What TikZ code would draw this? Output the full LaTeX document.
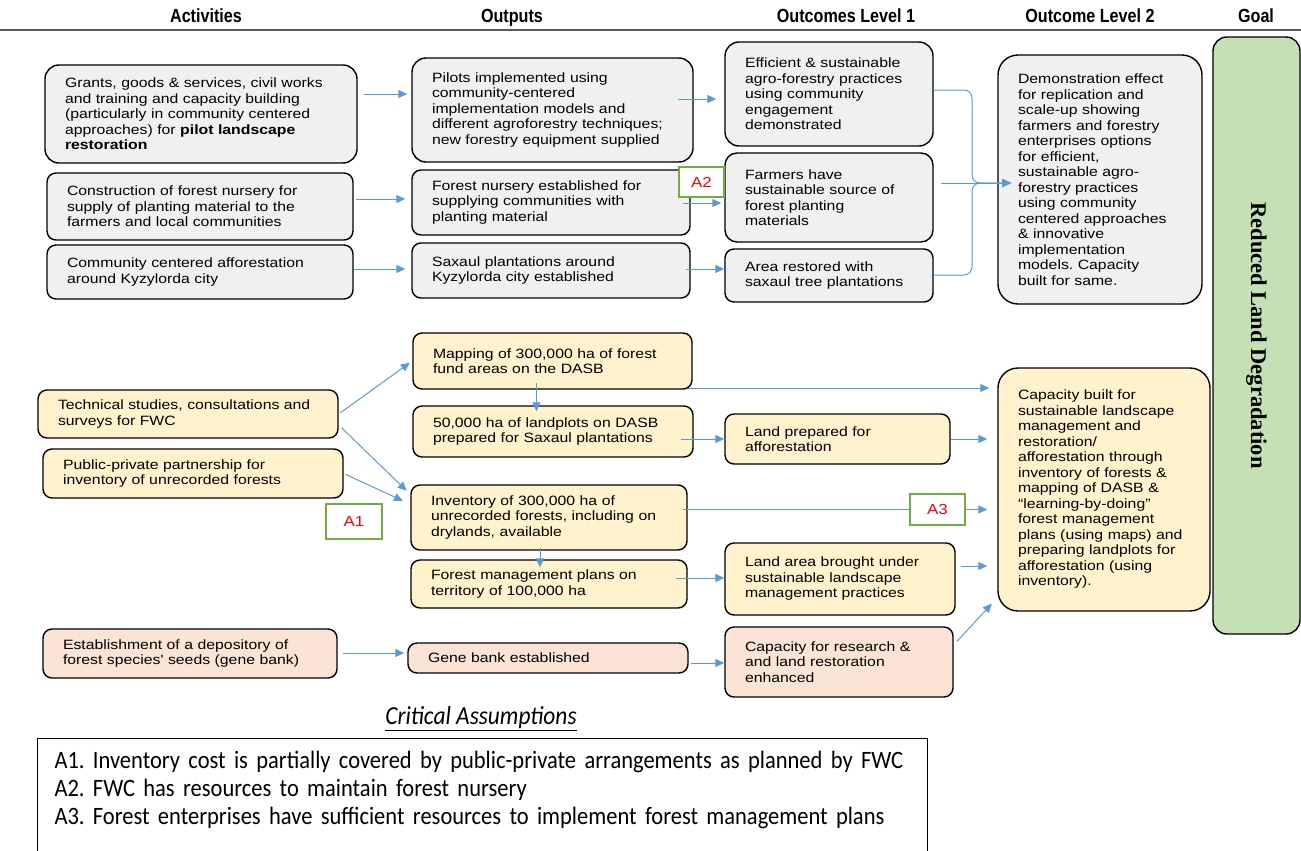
\documentclass[tikz,border=0pt]{standalone}
\usepackage{fontspec}
\setmainfont{Liberation Sans}
\newfontfamily\boxfont{Liberation Sans}[FakeStretch=1.17]
\newfontfamily\headfont{Liberation Sans}[FakeStretch=0.85]
\newfontfamily\goalfont{Liberation Serif}
\newfontfamily\notefont{Carlito}[FakeStretch=0.9]
\usetikzlibrary{arrows.meta,positioning}
\definecolor{boxgray}{HTML}{F0F0F0}
\definecolor{boxyellow}{HTML}{FFF2CC}
\definecolor{boxpink}{HTML}{FBE4D5}
\definecolor{goalgreen}{HTML}{C5E0B4}
\definecolor{arrowblue}{HTML}{5B9BD5}
\definecolor{markgreen}{HTML}{70AD47}
\frenchspacing
\begin{document}
\begin{tikzpicture}[x=1pt, y=-1pt, every node/.style={font=\boxfont\fontsize{13.5}{15.5}\selectfont},
      box/.style={draw, line width=1.4pt, rounded corners=9pt, align=left, inner xsep=20pt, inner ysep=2pt},
      gbox/.style={box, fill=boxgray}, ybox/.style={box, fill=boxyellow}, pbox/.style={box, fill=boxpink},
      head/.style={anchor=base, font=\headfont\bfseries\fontsize{19}{22}\selectfont},
      asum/.style={draw=markgreen, line width=1.3pt, fill=white, text=red, inner sep=0pt, font=\boxfont\fontsize{14.5}{16}\selectfont},
      arr/.style={draw=arrowblue, line width=1pt, -{Stealth[length=9pt, width=8pt, inset=0pt]}},
      link/.style={draw=arrowblue, line width=1pt}]
    \useasboundingbox (0,0) rectangle (1301,851);
    % column heads
    \node[head] (hact) at (206,23) {Activities};
    \node[head] (hout) at (512,23) {Outputs};
    \node[head] (hoc1) at (846,23) {Outcomes Level 1};
    \node[head] (hoc2) at (1090,23) {Outcome Level 2};
    \node[head] (hgoal) at (1256,23) {Goal};
    \draw[line width=1.5pt, gray!70!black] (0,30) -- (1301,30);
    % pilot landscape part
    \node[gbox, rounded corners=14pt, text width=272pt, minimum height=98pt] (act1) at (201,114) {Grants, goods \& services, civil works\\and training and capacity building\\(particularly in community centered\\approaches) for \textbf{pilot landscape}\\\textbf{restoration}};
    \node[gbox, text width=266pt, minimum height=67pt] (act2) at (200,206.5) {Construction of forest nursery for\\supply of planting material to the\\farmers and local communities};
    \node[gbox, text width=266pt, minimum height=54pt] (act3) at (200,272) {Community centered afforestation\\around Kyzylorda city};
    \node[gbox, rounded corners=14pt, text width=241pt, minimum height=104pt] (out1) at (552.5,110) {Pilots implemented using\\community-centered\\implementation models and\\different agroforestry techniques;\\new forestry equipment supplied};
    \node[gbox, text width=238pt, minimum height=65pt] (out2) at (551,202.5) {Forest nursery  established for\\supplying communities with\\planting material};
    \node[gbox, text width=238pt, minimum height=55pt] (out3) at (551,270.5) {Saxaul plantations around\\Kyzylorda city established};
    \node[gbox, rounded corners=14pt, text width=168pt, minimum height=104pt] (oc1) at (829,94) {Efficient \& sustainable\\agro-forestry practices\\using community\\engagement\\demonstrated};
    \node[gbox, rounded corners=12pt, text width=168pt, minimum height=89pt] (oc2) at (829,197.5) {Farmers  have\\sustainable source of\\forest planting\\materials};
    \node[gbox, text width=168pt, minimum height=53pt] (oc3) at (829,275.5) {Area restored with\\saxaul tree plantations};
    \node[gbox, rounded corners=20pt, text width=164pt, minimum height=249pt] (demo) at (1100,179.5) {Demonstration effect\\for replication and\\scale-up showing\\farmers and forestry\\enterprises options\\for efficient,\\sustainable agro-\\forestry practices\\using community\\centered approaches\\\& innovative\\implementation\\models. Capacity\\built for same.};
    \node[asum, minimum width=45pt, minimum height=30pt] (a2) at (701.5,182) {A2};
    % goal
    \node[box, fill=goalgreen, rounded corners=14pt, rotate=-90, inner sep=0pt, minimum width=597pt, minimum height=87pt, font=\goalfont\bfseries\fontsize{22.5}{26}\selectfont] (goal) at (1256.5,335.5) {Reduced Land Degradation};
    % forest management part
    \node[ybox, text width=260pt, minimum height=48pt] (tech) at (188,414) {Technical studies, consultations and\\surveys for FWC};
    \node[ybox, text width=260pt, minimum height=49pt] (ppp) at (193,473.5) {Public-private partnership for\\inventory of unrecorded forests};
    \node[asum, minimum width=56pt, minimum height=35pt] (a1) at (354,521.5) {A1};
    \node[ybox, text width=239pt, minimum height=56pt] (map) at (552.5,361) {Mapping of 300,000 ha of forest\\fund areas on the DASB};
    \node[ybox, text width=240pt, minimum height=51pt] (plots) at (553,431.5) {50,000 ha of landplots on DASB\\prepared for Saxaul plantations};
    \node[ybox, text width=236pt, minimum height=65pt] (inv) at (549,517.5) {Inventory of 300,000 ha of\\unrecorded forests, including on\\drylands, available};
    \node[ybox, text width=236pt, minimum height=48pt] (plans) at (549,584) {Forest management plans on\\territory of 100,000 ha};
    \node[ybox, text width=185pt, minimum height=50pt] (prep) at (837.5,439) {Land prepared for\\afforestation};
    \node[asum, minimum width=55pt, minimum height=31pt] (a3) at (937.5,509.5) {A3};
    \node[ybox, text width=190pt, minimum height=72pt] (area) at (840,579) {Land area brought under\\sustainable landscape\\management practices};
    \node[ybox, rounded corners=20pt, text width=172pt, minimum height=243pt] (cap) at (1104,489.5) {Capacity built for\\sustainable landscape\\management  and\\restoration/\\afforestation through\\inventory of forests \&\\mapping of DASB \&\\“learning-by-doing”\\forest management\\plans (using maps) and\\preparing landplots for\\afforestation (using\\inventory).};
    % gene bank part
    \node[pbox, text width=254pt, minimum height=49pt] (seeds) at (190,653.5) {Establishment of a depository of\\forest species' seeds (gene bank)};
    \node[pbox, text width=240pt, minimum height=30pt] (gene) at (548,658) {Gene bank established};
    \node[pbox, text width=188pt, minimum height=70pt] (res) at (839,662) {Capacity for research \&\\and land restoration\\enhanced};
    % assumptions
    \node[font=\notefont\itshape\fontsize{26}{28}\selectfont] (crit) at (481,719) {\underline{Critical Assumptions}};
    \node[draw, line width=1pt, anchor=north west, inner xsep=17pt, inner ysep=3pt, text width=856pt, align=left, font=\notefont\fontsize{25}{28}\selectfont] (notes) at (37,738) {\rule{0pt}{27pt}A1. Inventory cost is partially covered by public-private arrangements as planned by FWC\\A2. FWC has resources to maintain forest nursery\\A3. Forest enterprises have sufficient resources to implement forest management plans\\\mbox{}};
    % connectors, upper part
    \draw[arr, shorten <=6pt, shorten >=4pt] (act1.east |- 0,94) -- (out1.west |- 0,94);
    \draw[arr, shorten <=-16pt, shorten >=8pt] (out1.east |- 0,99) -- (oc1.west |- 0,99);
    \draw[arr, shorten <=2pt, shorten >=6pt] (act2.east |- 0,199) -- (out2.west |- 0,199);
    \draw[arr, shorten <=-8pt, shorten >=3pt] (out2.east |- 0,203) -- (oc2.west |- 0,203);
    \draw[arr, shorten >=6pt] (act3.east |- 0,269) -- (out3.west |- 0,269);
    \draw[arr, shorten <=-5pt] (out3.east |- 0,269) -- (oc3.west |- 0,269);
    \coordinate (brace) at (972,183);
    \draw[arr, rounded corners=8pt, shorten >=-14pt] (oc1.east |- 0,90) -| (brace) -- (demo.west |- brace);
    \draw[arr, rounded corners=8pt, shorten >=-14pt] (oc3.east |- 0,275) -| (brace) -- (demo.west |- brace);
    \draw[arr, shorten <=7pt, shorten >=-14pt] (oc2.east |- brace) -- (demo.west |- brace);
    % connectors, lower part
    \draw[arr, shorten <=2pt, shorten >=3pt] (tech.east) -- (map.west);
    \draw[arr, shorten <=4pt, shorten >=5pt] ([yshift=-11pt]tech.east) -- ([yshift=-10pt]inv.north west);
    \draw[arr, shorten <=2pt, shorten >=8pt] (ppp.east) -- ([yshift=-20pt]inv.north west);
    \draw[arr, shorten <=-7pt, shorten >=-6pt] ([xshift=-16pt]map.south) -- ([xshift=-16pt]map.south |- plots.north);
    \draw[arr, shorten <=-3pt, shorten >=-8pt] ([xshift=-9pt]inv.south) -- ([xshift=-9pt]inv.south |- plans.north);
    \draw[arr, shorten <=-5pt, shorten >=8pt] (map.east |- 0,388) -- (cap.west |- 0,388);
    \draw[arr, shorten <=-13pt] (plots.east |- prep.west) -- (prep.west);
    \draw[arr, shorten >=10pt] (prep.east) -- (cap.west |- prep.east);
    \draw[link, shorten <=-5pt] (inv.east |- a3.west) -- (a3.west);
    \draw[arr, shorten >=10pt] (a3.east) -- (cap.west |- a3.east);
    \draw[arr, shorten <=-12pt] (plans.east |- 0,578) -- (area.west |- 0,578);
    \draw[arr, shorten <=5pt, shorten >=10pt] (area.east |- 0,566) -- (cap.west |- 0,566);
    \draw[arr, shorten <=5pt, shorten >=8pt] ([yshift=17pt]res.east) -- ([yshift=14pt]cap.south west);
    \draw[arr, shorten <=5pt, shorten >=3pt] (seeds.east |- 0,653) -- (gene.west |- 0,653);
    \draw[arr, shorten <=2pt] (gene.east |- 0,663) -- (res.west |- 0,663);
  \end{tikzpicture}
\end{document}
